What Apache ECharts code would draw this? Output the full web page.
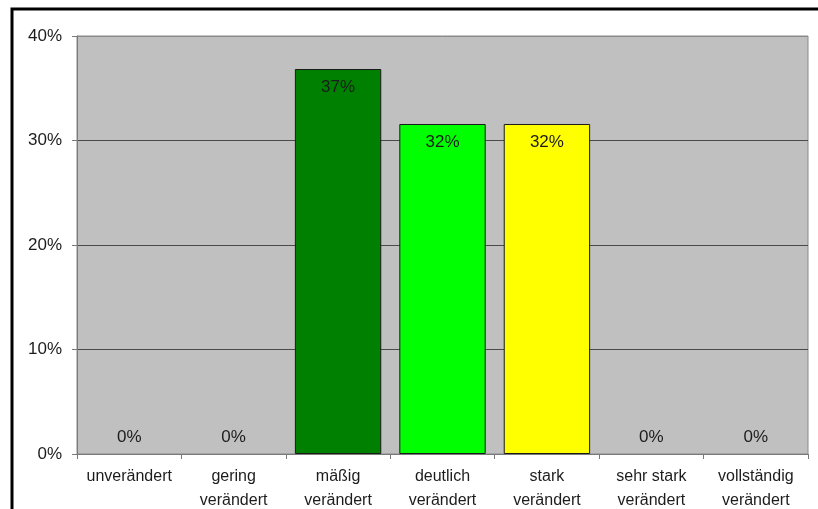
<!DOCTYPE html>
<html>
<head>
<meta charset="utf-8">
<script src="https://cdn.jsdelivr.net/npm/echarts@6/dist/echarts.min.js"></script>
<style>
  html, body { margin: 0; padding: 0; background: #ffffff; }
  #chart { width: 818px; height: 509px; }
</style>
</head>
<body>
<div id="chart"></div>
<script>
// Kategorien der Veränderung (x-Achse)
const categories = [
  'unverändert',
  'gering\nverändert',
  'mäßig\nverändert',
  'deutlich\nverändert',
  'stark\nverändert',
  'sehr stark\nverändert',
  'vollständig\nverändert'
];
// Anteile in Prozent
const shares = [0, 0, 36.84, 31.58, 31.58, 0, 0];
// Balkenfarben je Kategorie
const barColors = ['#c0c0c0', '#c0c0c0', '#008000', '#00ff00', '#ffff00', '#c0c0c0', '#c0c0c0'];
// Beschriftung der y-Achse
const yTicks = [0, 10, 20, 30, 40];

const FONT = '"Liberation Sans", Arial, sans-serif';
const TEXT = '#1c1c1c';

const chart = echarts.init(document.getElementById('chart'), null, { renderer: 'canvas' });

// leere Balken ohne Rahmen, Beschriftung dann oberhalb der Grundlinie
const seriesData = shares.map((v, i) => ({
  value: v,
  itemStyle: { color: barColors[i], borderWidth: v > 0 ? 1 : 0 },
  label: v > 0
    ? { position: 'insideTop', distance: 10 }
    : { position: 'top', distance: 8 }
}));

chart.setOption({
  animation: false,
  backgroundColor: '#ffffff',
  textStyle: { fontFamily: FONT },
  graphic: [{
    type: 'rect',
    shape: { x: 12, y: 9, width: 1000, height: 1000 },
    style: { fill: 'none', stroke: '#000000', lineWidth: 3 },
    z: 100
  }],
  grid: {
    left: 77, right: 10, top: 36, bottom: 55,
    outerBoundsMode: 'none',
    containLabel: false,
    show: true,
    backgroundColor: '#c0c0c0',
    borderColor: '#8a8a8a',
    borderWidth: 1
  },
  xAxis: {
    type: 'category',
    data: categories,
    axisLine: { show: true, lineStyle: { color: '#7a7a7a', width: 1 } },
    axisTick: { show: true, length: 5, lineStyle: { color: '#7a7a7a' } },
    axisLabel: {
      interval: 0,
      margin: 11,
      color: TEXT,
      fontFamily: FONT,
      fontSize: 16,
      lineHeight: 24,
      align: 'center'
    },
    splitLine: { show: false }
  },
  yAxis: {
    type: 'value',
    min: yTicks[0],
    max: yTicks[yTicks.length - 1],
    interval: 10,
    axisLine: { show: true, lineStyle: { color: '#7a7a7a', width: 1 } },
    axisTick: { show: true, length: 5, lineStyle: { color: '#7a7a7a' } },
    axisLabel: {
      margin: 15,
      color: TEXT,
      fontFamily: FONT,
      fontSize: 17,
      formatter: v => v + '%'
    },
    splitLine: {
      show: true,
      lineStyle: {
        color: ['#8a8a8a', '#4a4a4a', '#4a4a4a', '#4a4a4a', '#8a8a8a'],
        width: 1
      }
    }
  },
  series: [{
    type: 'bar',
    data: seriesData,
    barCategoryGap: '17.3%',
    itemStyle: { borderColor: '#1a1a1a', borderWidth: 1 },
    label: {
      show: true,
      color: TEXT,
      fontFamily: FONT,
      fontSize: 17,
      formatter: p => Math.round(p.value) + '%'
    }
  }]
});
</script>
</body>
</html>
